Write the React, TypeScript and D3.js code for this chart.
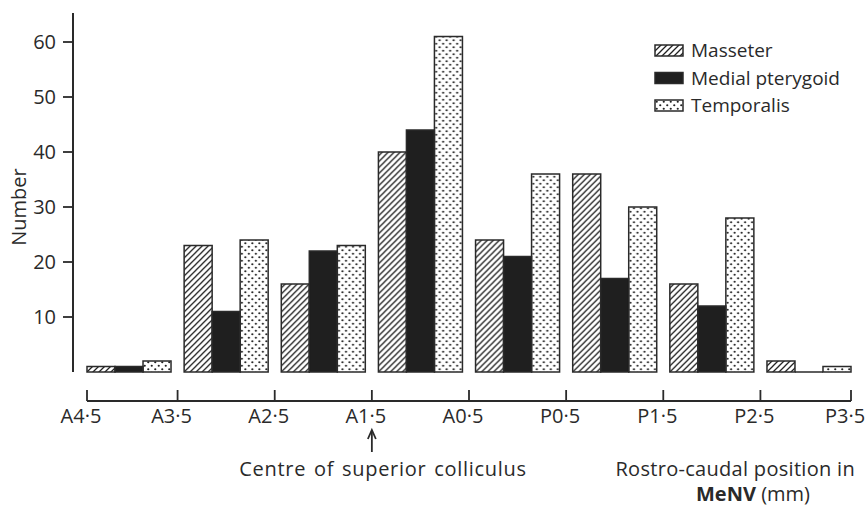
import React from "react";
import * as d3 from "d3";

const positions = ["A4·5", "A3·5", "A2·5", "A1·5", "A0·5", "P0·5", "P1·5", "P2·5"];
const tickLabels = ["A4·5", "A3·5", "A2·5", "A1·5", "A0·5", "P0·5", "P1·5", "P2·5", "P3·5"];
const seriesNames = ["Masseter", "Medial pterygoid", "Temporalis"];
const masseter = [1, 23, 16, 40, 24, 36, 16, 2];
const medialPterygoid = [1, 11, 22, 44, 21, 17, 12, 0];
const temporalis = [2, 24, 23, 61, 36, 30, 28, 1];
const yTicks = [10, 20, 30, 40, 50, 60];

const W = 867;
const H = 508;
const font = "'Open Sans', 'Noto Sans', sans-serif";
const ink = "#2a2a2a";

export default function App() {
  const seriesValues = [masseter, medialPterygoid, temporalis];
  const fills = ["url(#hatch)", "#1f1f1f", "url(#dots)"];

  const x0 = d3.scaleBand<string>().domain(positions).range([87, 851]).paddingInner(0.135).paddingOuter(0);
  const x1 = d3.scaleBand<string>().domain(seriesNames).range([0, x0.bandwidth()]).padding(0);
  const y = d3.scaleLinear().domain([0, 60]).range([372, 42]);

  const gap = x0.step() - x0.bandwidth();
  const tickXs = tickLabels.map((_, i) => {
    if (i === 0) return x0.range()[0];
    if (i === tickLabels.length - 1) return x0.range()[1];
    return (x0(positions[i]) as number) - gap / 2;
  });

  const axisY = 401;

  return (
    <svg width={W} height={H} style={{ position: "absolute", left: 0, top: 0, background: "#fff" }}>
      <defs>
        <pattern id="hatch" patternUnits="userSpaceOnUse" width="6" height="6">
          <path d="M-1,1 l2,-2 M0,6 l6,-6 M5,7 l2,-2" stroke="#222" strokeWidth="1.3" />
        </pattern>
        <pattern id="dots" patternUnits="userSpaceOnUse" width="7" height="7">
          <circle cx="1.75" cy="1.75" r="1.1" fill="#222" />
          <circle cx="5.25" cy="5.25" r="1.1" fill="#222" />
        </pattern>
      </defs>
      <rect x={0} y={0} width={W} height={H} fill="#fff" />

      {/* Y axis */}
      <line x1={73} x2={73} y1={13} y2={372} stroke={ink} strokeWidth={2} />
      {yTicks.map((t) => (
        <g key={t}>
          <line x1={63} x2={73} y1={y(t)} y2={y(t)} stroke={ink} strokeWidth={1.8} />
          <text x={56} y={y(t)} dy="0.35em" textAnchor="end" fontSize={20} fontFamily={font} fill={ink}>
            {t}
          </text>
        </g>
      ))}
      <text
        transform={`translate(19, ${y(30)}) rotate(-90)`}
        textAnchor="middle"
        dy="0.35em"
        fontSize={20}
        fontFamily={font}
        fill={ink}
      >
        Number
      </text>

      {/* Bars */}
      {positions.map((p, gi) => (
        <g key={p} transform={`translate(${x0(p)},0)`}>
          {seriesNames.map((s, si) => {
            const v = seriesValues[si][gi];
            const bx = x1(s) as number;
            const bw = x1.bandwidth();
            return (
              <path
                key={s}
                d={`M${bx},${y(0)} V${y(v)} H${bx + bw} V${y(0)} Z`}
                fill={fills[si]}
                stroke={ink}
                strokeWidth={1.5}
              />
            );
          })}
        </g>
      ))}

      {/* X axis */}
      <line x1={tickXs[0]} x2={tickXs[tickXs.length - 1]} y1={axisY} y2={axisY} stroke={ink} strokeWidth={2} />
      {tickXs.map((tx, i) => (
        <g key={tickLabels[i]}>
          <line x1={tx} x2={tx} y1={axisY} y2={axisY - 11} stroke={ink} strokeWidth={1.8} />
          <text x={tx - 6} y={423} textAnchor="middle" fontSize={20} fontFamily={font} fill={ink}>
            {tickLabels[i]}
          </text>
        </g>
      ))}

      {/* Arrow under A1·5 */}
      <g stroke={ink} strokeWidth={1.8} fill="none">
        <line x1={tickXs[3]} x2={tickXs[3]} y1={452} y2={431} />
        <path d={`M${tickXs[3] - 4},${439} L${tickXs[3]},${430} L${tickXs[3] + 4},${439}`} />
      </g>
      <text x={383} y={476} textAnchor="middle" fontSize={20} fontFamily={font} fill={ink} letterSpacing={0.7} wordSpacing={2}>
        Centre of superior colliculus
      </text>
      <text x={855} y={476} textAnchor="end" fontSize={20} fontFamily={font} fill={ink} letterSpacing={0.3}>
        Rostro-caudal position in
      </text>
      <text x={753} y={501} textAnchor="middle" fontSize={20} fontFamily={font} fill={ink}>
        <tspan fontWeight="bold">MeNV</tspan> (mm)
      </text>

      {/* Legend */}
      {seriesNames.map((s, i) => (
        <g key={s} transform={`translate(655, ${45 + i * 27.5})`}>
          <rect x={0} y={0} width={28} height={11} fill={fills[i]} stroke={ink} strokeWidth={1.5} />
          <text x={36} y={12} fontSize={19} fontFamily={font} fill={ink}>
            {s}
          </text>
        </g>
      ))}
    </svg>
  );
}
